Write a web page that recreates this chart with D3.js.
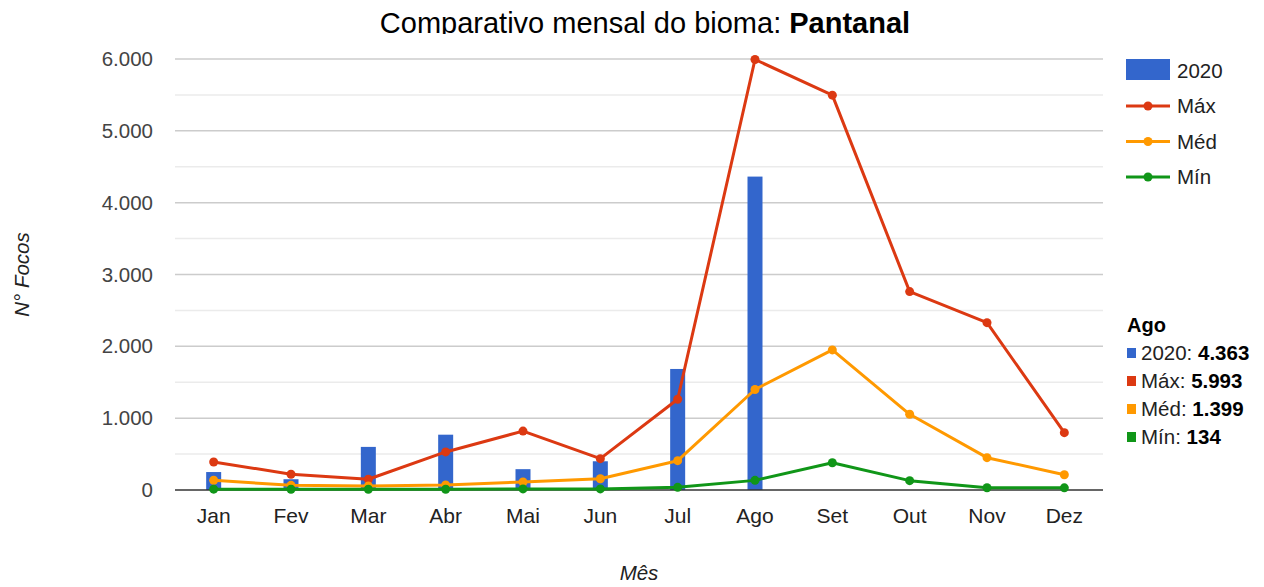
<!DOCTYPE html>
<html>
<head>
<meta charset="utf-8">
<script src="https://cdn.jsdelivr.net/npm/d3@7"></script>
<style>
  body { margin: 0; background: #fff; }
  svg { font-family: "Liberation Sans", Arial, sans-serif; }
</style>
</head>
<body>
<div id="chart"></div>
<script>
// dados do bioma Pantanal
const meses = ["Jan", "Fev", "Mar", "Abr", "Mai", "Jun", "Jul", "Ago", "Set", "Out", "Nov", "Dez"];
const serie2020 = [250, 150, 600, 770, 290, 400, 1685, 4363, 0, 0, 0, 0];
const serieMax = [390, 220, 150, 530, 820, 436, 1263, 5993, 5497, 2762, 2330, 798];
const serieMed = [135, 65, 56, 70, 111, 157, 408, 1399, 1950, 1054, 450, 213];
const serieMin = [12, 10, 10, 10, 15, 15, 37, 134, 380, 130, 32, 30];
const yTicks = [0, 1000, 2000, 3000, 4000, 5000, 6000];
const yMinor = [500, 1500, 2500, 3500, 4500, 5500];

const width = 1264, height = 587;
const margin = { top: 59, left: 175, right: 161, bottom: 97 };

const svg = d3.select("#chart").append("svg")
  .attr("width", width)
  .attr("height", height);

const x = d3.scaleBand()
  .domain(meses)
  .range([margin.left, width - margin.right]);

const y = d3.scaleLinear()
  .domain([0, 6000])
  .range([height - margin.bottom, margin.top]);

const fmt = d3.formatLocale({ decimal: ",", thousands: ".", grouping: [3], currency: ["R$", ""] }).format(",d");

// grid lines
svg.append("g").selectAll("line").data(yMinor).join("line")
  .attr("x1", margin.left).attr("x2", width - margin.right)
  .attr("y1", d => y(d)).attr("y2", d => y(d))
  .attr("stroke", "#ebebeb").attr("stroke-width", 1.5);

svg.append("g").selectAll("line").data(yTicks.filter(d => d > 0)).join("line")
  .attr("x1", margin.left).attr("x2", width - margin.right)
  .attr("y1", d => y(d)).attr("y2", d => y(d))
  .attr("stroke", "#cccccc").attr("stroke-width", 1.5);

// y labels
svg.append("g").selectAll("text").data(yTicks).join("text")
  .attr("x", margin.left - 22)
  .attr("y", d => y(d) + 7)
  .attr("text-anchor", "end")
  .attr("fill", "#444")
  .style("font-size", "20.5px")
  .text(d => fmt(d));

// x labels
svg.append("g").selectAll("text").data(meses).join("text")
  .attr("x", d => x(d) + x.bandwidth() / 2)
  .attr("y", height - margin.bottom + 33)
  .attr("text-anchor", "middle")
  .attr("fill", "#222")
  .style("font-size", "21px")
  .text(d => d);

// barras 2020
const barW = 15;
svg.append("g").selectAll("rect").data(serie2020).join("rect")
  .attr("x", (d, i) => x(meses[i]) + x.bandwidth() / 2 - barW / 2)
  .attr("y", d => y(d))
  .attr("width", barW)
  .attr("height", d => y(0) - y(d))
  .attr("fill", "#3366cc");

// baseline
svg.append("line")
  .attr("x1", margin.left).attr("x2", width - margin.right)
  .attr("y1", y(0)).attr("y2", y(0))
  .attr("stroke", "#333").attr("stroke-width", 1.5);

// linhas
const series = [
  { nome: "Máx", valores: serieMax, cor: "#dc3912" },
  { nome: "Méd", valores: serieMed, cor: "#ff9900" },
  { nome: "Mín", valores: serieMin, cor: "#109618" }
];

const line = d3.line()
  .x((d, i) => x(meses[i]) + x.bandwidth() / 2)
  .y(d => y(d));

series.forEach(s => {
  const g = svg.append("g");
  g.append("path")
    .datum(s.valores)
    .attr("fill", "none")
    .attr("stroke", s.cor)
    .attr("stroke-width", 3)
    .attr("stroke-linejoin", "round")
    .attr("d", line);
  g.selectAll("circle").data(s.valores).join("circle")
    .attr("cx", (d, i) => x(meses[i]) + x.bandwidth() / 2)
    .attr("cy", d => y(d))
    .attr("r", 4.5)
    .attr("fill", s.cor);
});

// titulo (cortado embaixo, como no original)
svg.append("clipPath").attr("id", "cortaTitulo")
  .append("rect").attr("x", 0).attr("y", 0).attr("width", width).attr("height", 34);

const title = svg.append("text")
  .attr("x", 645)
  .attr("y", 33)
  .attr("clip-path", "url(#cortaTitulo)")
  .attr("text-anchor", "middle")
  .attr("fill", "#000")
  .style("font-size", "29px");
title.append("tspan").text("Comparativo mensal do bioma: ");
title.append("tspan").style("font-weight", "bold").text("Pantanal");

// titulos dos eixos
svg.append("text")
  .attr("x", x("Jun") + x.bandwidth())
  .attr("y", 580)
  .attr("text-anchor", "middle")
  .attr("fill", "#222")
  .style("font-size", "20.5px")
  .style("font-style", "italic")
  .text("Mês");

svg.append("text")
  .attr("transform", "translate(29," + y(3000) + ") rotate(-90)")
  .attr("text-anchor", "middle")
  .attr("fill", "#222")
  .style("font-size", "20.5px")
  .style("font-style", "italic")
  .text("N° Focos");

// legenda
const lx = 1126;
const legend = svg.append("g");
legend.append("rect")
  .attr("x", lx).attr("y", 59).attr("width", 44).attr("height", 21)
  .attr("fill", "#3366cc");
legend.append("text")
  .attr("x", lx + 51).attr("y", 78)
  .attr("fill", "#222").style("font-size", "20.5px")
  .text("2020");

series.forEach((s, i) => {
  const ly = 106 + i * 35.5;
  legend.append("line")
    .attr("x1", lx).attr("x2", lx + 44)
    .attr("y1", ly).attr("y2", ly)
    .attr("stroke", s.cor).attr("stroke-width", 3);
  legend.append("circle")
    .attr("cx", lx + 22).attr("cy", ly).attr("r", 4.5)
    .attr("fill", s.cor);
  legend.append("text")
    .attr("x", lx + 51).attr("y", ly + 7)
    .attr("fill", "#222").style("font-size", "20.5px")
    .text(s.nome);
});

// caixa de detalhe do mes (Ago)
const mesSel = 7;
const det = svg.append("g");
det.append("text")
  .attr("x", 1127).attr("y", 332)
  .attr("fill", "#000")
  .style("font-size", "20px").style("font-weight", "bold")
  .text(meses[mesSel]);

const itens = [{ nome: "2020", valor: serie2020[mesSel], cor: "#3366cc" }]
  .concat(series.map(s => ({ nome: s.nome, valor: s.valores[mesSel], cor: s.cor })));

itens.forEach((it, i) => {
  const by = 360 + i * 28;
  det.append("rect")
    .attr("x", 1127).attr("y", by - 12).attr("width", 9).attr("height", 10)
    .attr("fill", it.cor);
  const t = det.append("text")
    .attr("x", 1141).attr("y", by)
    .attr("fill", "#222")
    .style("font-size", "20.5px");
  t.append("tspan").text(it.nome + ": ");
  t.append("tspan").style("font-weight", "bold").attr("fill", "#000").text(fmt(it.valor));
});
</script>
</body>
</html>
